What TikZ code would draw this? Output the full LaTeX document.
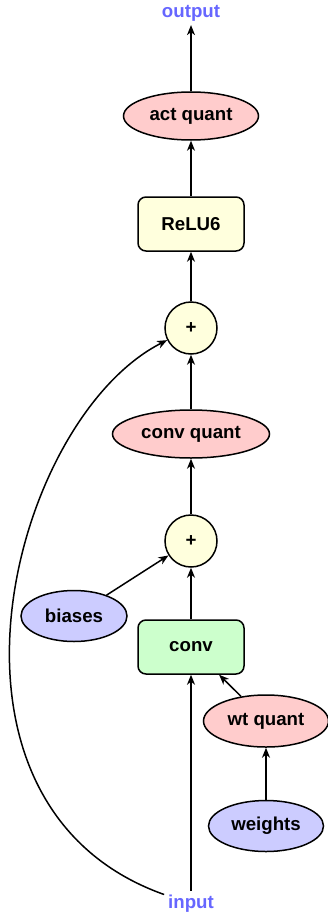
\documentclass[tikz,border=0pt]{standalone}
\usepackage{fontspec}
\setmainfont{Liberation Sans}
\usetikzlibrary{arrows.meta, positioning, shapes.geometric}
\definecolor{quantred}{HTML}{FFCCCC}
\definecolor{opyellow}{HTML}{FFFFDD}
\definecolor{convgreen}{HTML}{CCFFCC}
\definecolor{paramblue}{HTML}{CCCCFF}
\definecolor{ioblue}{HTML}{6666FF}

\begin{document}
\begin{tikzpicture}[x=1pt, y=-1pt, on grid, line width=1.5pt,
    >={Stealth[length=10pt, width=8pt, inset=3pt]},
    every node/.style={font=\fontsize{18.67}{22}\selectfont\bfseries},
    quant/.style={ellipse, draw, fill=quantred, inner sep=0pt, minimum height=48pt},
    param/.style={ellipse, draw, fill=paramblue, inner sep=0pt, minimum height=51pt},
    op/.style={rectangle, rounded corners=8pt, draw, minimum width=106pt, minimum height=54pt},
    adder/.style={circle, draw, fill=opyellow, minimum size=52pt, inner sep=0pt},
    io/.style={text=ioblue}]
        \useasboundingbox (0,0) rectangle (328,915);

        % Main column
        \node[io] (input) at (191,904) {input};
        \node[op, fill=convgreen, above=257pt of input] (conv) {conv};
        \node[adder, above=106pt of conv] (addb) {+};
        \node[quant, minimum width=157pt, above=107pt of addb] (cq) {conv quant};
        \node[adder, above=106pt of cq] (addt) {+};
        \node[op, fill=opyellow, above=104pt of addt] (relu) {ReLU6};
        \node[quant, minimum width=135pt, above=108pt of relu] (aq) {act quant};
        \node[io, above=103pt of aq] (output) {output};

        % Side inputs
        \node[param, minimum width=106pt, above left=31pt and 117pt of conv] (biases) {biases};
        \node[quant, minimum width=125pt, minimum height=52pt, below right=74pt and 75pt of conv] (wq) {wt quant};
        \node[param, minimum width=115pt, below=105pt of wq] (weights) {weights};

        \draw[->] (input) -- (conv);
        \draw[->] (weights) -- (wq);
        \draw[->] (wq) -- (conv);
        \draw[->] (conv) -- (addb);
        \draw[->] (biases) -- (addb);
        \draw[->] (addb) -- (cq);
        \draw[->] (cq) -- (addt);
        \draw[->] (addt) -- (relu);
        \draw[->] (relu) -- (aq);
        \draw[->] (aq) -- (output);

        % Skip connection
        \draw[->] (input) .. controls (-88,805) and (10,420) .. (addt);
    \end{tikzpicture}
\end{document}
